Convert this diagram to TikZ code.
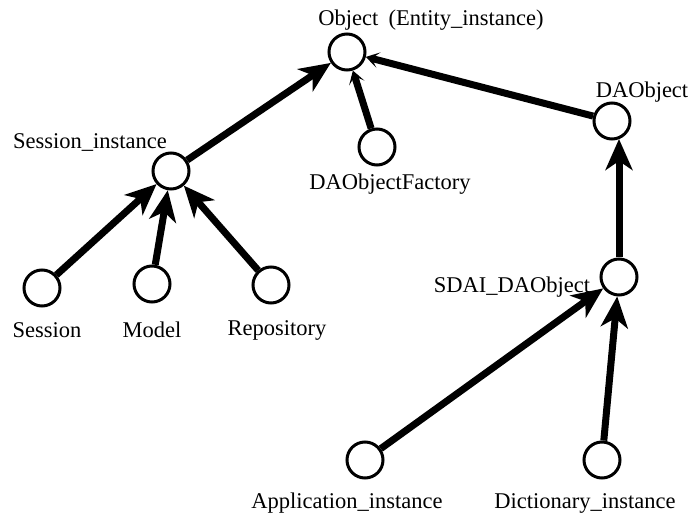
\documentclass[tikz,border=0pt]{standalone}
\usepackage{fontspec}
\setmainfont{Liberation Serif}
\usetikzlibrary{arrows.meta,calc}
\begin{document}
\begin{tikzpicture}[x=1pt,y=-1pt,
  vert/.style={circle,draw,line width=3pt,fill=white,minimum size=36pt,inner sep=0pt},
  lbl/.style={font=\fontsize{22.5}{25}\selectfont,inner sep=0pt},
  conn/.style={line width=7pt,-{Stealth[length=31pt,width=27pt,inset=9pt]}},
  weak/.style={line width=7pt,-{Stealth[length=13pt,width=16pt,inset=7pt]}}]
\useasboundingbox (0,0) rectangle (689,518);
% vertices
\node[vert] (obj) at (347,52) {};
\node[vert] (dao) at (612,121) {};
\node[vert] (fac) at (377,147) {};
\node[vert] (sesi) at (171,171) {};
\node[vert] (sdai) at (619,277) {};
\node[vert] (ses) at (42,288) {};
\node[vert] (mod) at (152,284) {};
\node[vert] (rep) at (271,285) {};
\node[vert] (app) at (365,460) {};
\node[vert] (dic) at (602,460) {};
\coordinate (daoin) at ($(sdai.north |- dao.south)+(0,-1.5)$);
% labels
\node[lbl] (lobj) at (431,20) {Object\hspace{0.45em}(Entity\_instance)};
\node[lbl] (ldao) at (642,92) {DAObject};
\node[lbl] (lfac) at (390,184) {DAObjectFactory};
\node[lbl] (lsesi) at (90,143) {Session\_instance};
\node[lbl] (lsdai) at (512,287) {SDAI\_DAObject};
\node[lbl] (lses) at (47,330) {Session};
\node[lbl] (lmod) at (152,330) {Model};
\node[lbl] (lrep) at (277,330) {Repository};
\node[lbl] (lapp) at (347,503) {Application\_instance};
\node[lbl] (ldic) at (585,503) {Dictionary\_instance};
% connectors
\draw[conn] (sesi) -- (obj);
\draw[weak] (fac) -- (obj);
\draw[weak] (dao) -- (obj);
\draw[conn] (ses) -- (sesi);
\draw[conn] (mod) -- (sesi);
\draw[conn] (rep) -- (sesi);
\draw[conn] (sdai.north) -- (daoin);
\draw[conn] (app) -- (sdai);
\draw[conn] (dic) -- (sdai);
\end{tikzpicture}
\end{document}
